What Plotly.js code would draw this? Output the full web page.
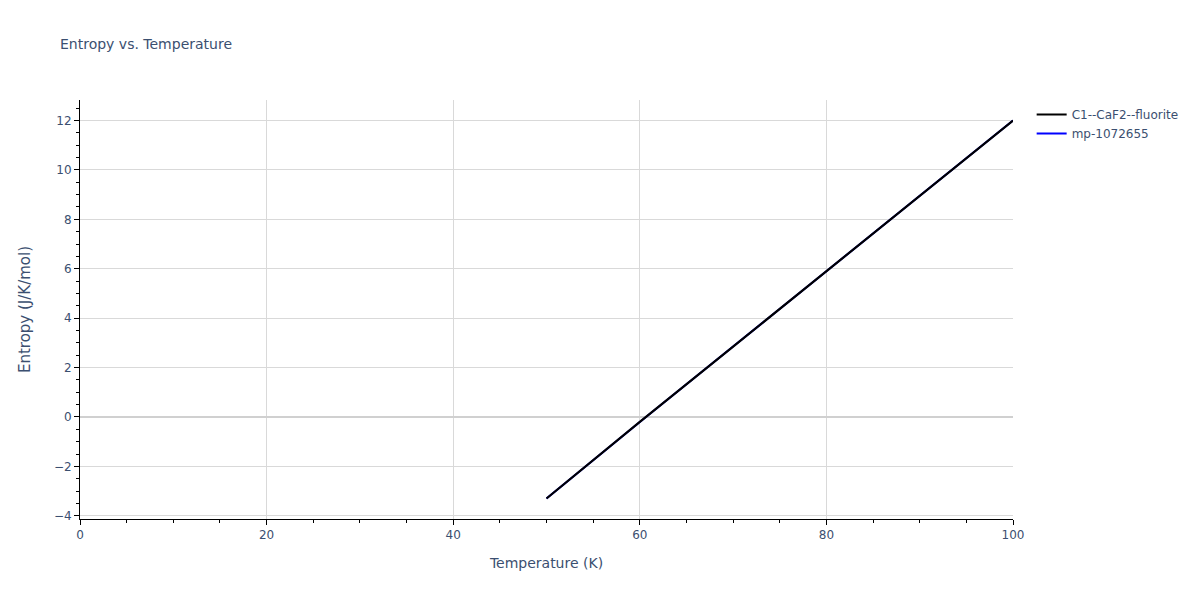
<!DOCTYPE html>
<html>
<head>
<meta charset="utf-8">
<script src="https://cdn.plot.ly/plotly-3.0.1.min.js"></script>
<style>body{margin:0}#chart{width:1200px;height:600px}</style>
</head>
<body>
<div id="chart"></div>
<script>
// values
const temperature = [50, 60, 70, 80, 90, 100];
const entropyCaF2 = [-3.3, -0.2, 2.85, 5.9, 8.95, 12.0];
// second curve sits under the first one
const entropyMp = [-3.3, -0.2, 2.85, 5.9, 8.95, 12.0];

const traces = [
    {
        type: 'scatter',
        mode: 'lines',
        name: 'mp-1072655',
        legendrank: 2,
        x: temperature,
        y: entropyMp,
        line: {color: 'blue', width: 2}
    },
    {
        type: 'scatter',
        mode: 'lines',
        name: 'C1--CaF2--fluorite',
        legendrank: 1,
        x: temperature,
        y: entropyCaF2,
        line: {color: 'black', width: 2.2}
    }
];

const axisStyle = {
    showline: true,
    linecolor: 'black',
    ticks: 'outside',
    tickcolor: 'black',
    gridcolor: '#d9d9d9',
    zeroline: true,
    zerolinecolor: '#d0d0d0',
    zerolinewidth: 2
};

const layout = {
    font: {family: 'DejaVu Sans, Verdana, sans-serif', size: 12, color: '#3b4f70'},
    title: {text: 'Entropy vs. Temperature', x: 0.05, y: 0.935, font: {size: 14}},
    plot_bgcolor: 'white',
    paper_bgcolor: 'white',
    margin: {l: 80, r: 187, t: 100, b: 81},
    xaxis: Object.assign({}, axisStyle, {
        title: {text: 'Temperature (K)', font: {size: 14}, standoff: 16},
        range: [0, 100],
        dtick: 20,
        minor: {dtick: 5, ticks: 'outside', tickcolor: 'black', showgrid: false}
    }),
    yaxis: Object.assign({}, axisStyle, {
        title: {text: 'Entropy (J/K/mol)', font: {size: 15}, standoff: 19},
        range: [-4.13, 12.83],
        dtick: 2,
        minor: {dtick: 0.5, ticks: 'outside', tickcolor: 'black', ticklen: 3, showgrid: false}
    }),
    legend: {x: 1.02, y: 1, font: {size: 12}},
    showlegend: true
};

Plotly.newPlot('chart', traces, layout, {displayModeBar: false});
</script>
</body>
</html>
